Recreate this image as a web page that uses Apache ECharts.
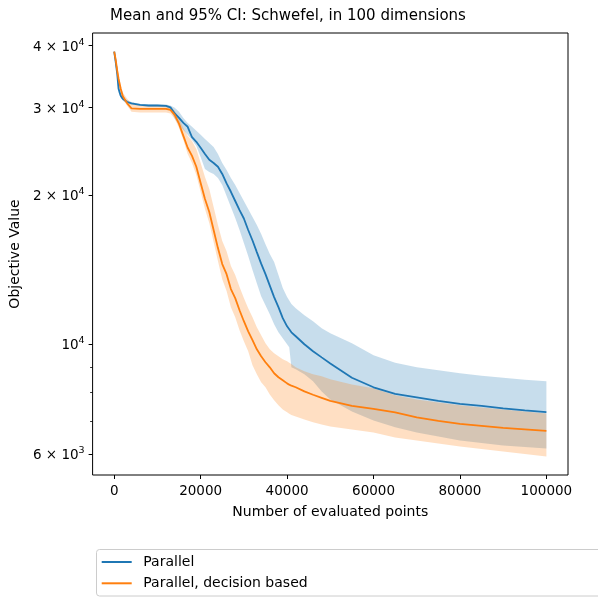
<!DOCTYPE html>
<html>
<head>
<meta charset="utf-8">
<script src="https://cdn.jsdelivr.net/npm/echarts@6/dist/echarts.min.js"></script>
<style>
  html, body { margin: 0; padding: 0; background: #fff; }
  #chart { width: 598px; height: 597px; }
</style>
</head>
<body>
<div id="chart"></div>
<script>
// number of evaluated points (shared x samples)
const evals = [0, 300, 700, 1000, 1500, 2000, 3000, 4000, 6000, 8000, 10000, 12000, 13000,
  14000, 15000, 16000, 17000, 18000, 19000, 20000, 21000, 22000, 23000, 24000, 25000, 26000,
  27000, 28000, 29000, 30000, 31000, 32000, 33000, 34000, 35000, 36000, 37000, 38000, 39000,
  40000, 40500, 41000, 42000, 44000, 46000, 48000, 50000, 55000, 60000, 65000, 70000, 75000,
  80000, 85000, 90000, 95000, 100000];

// Parallel: mean and 95% CI
const parMean = [38900, 37300, 35100, 32750, 31700, 31250, 30800, 30600, 30400, 30300, 30300, 30250, 30050,
  29200, 28600, 27950, 27450, 26150, 25600, 24900, 24200, 23550, 23200, 22800, 22050, 21100,
  20300, 19450, 18650, 17930, 17000, 16190, 15340, 14540, 13850, 13130, 12450, 11880, 11290,
  10870, 10720, 10570, 10380, 10000, 9680, 9410, 9150, 8560, 8190, 7940, 7815, 7690,
  7580, 7510, 7425, 7360, 7300];
const parUpper = [38900, 38200, 36300, 33360, 31990, 31550, 31040, 30800, 30530, 30460, 30460, 30460, 30300,
  29980, 29420, 28600, 27950, 27450, 26940, 26440, 25950, 25470, 25000, 24200, 23200, 22460,
  21640, 20950, 20190, 19450, 18730, 18060, 17400, 16680, 15920, 15200, 14650, 13790, 12980,
  12450, 12250, 12050, 11820, 11440, 11130, 10770, 10520, 10050, 9500, 9180, 8985, 8860,
  8740, 8640, 8560, 8480, 8420];
const parLower = [38900, 36950, 34310, 32140, 31400, 30970, 30600, 30400, 30250, 30110, 30110, 30050, 29690,
  28480, 27700, 27060, 26440, 25830, 25120, 23870, 22570, 22260, 22050, 21640, 20950, 19910,
  18910, 17970, 17000, 16000, 15060, 14110, 13280, 12500, 11990, 11500, 10975, 10570, 10280,
  10000, 9860, 8985, 8900, 8700, 8420, 8035, 7740, 7320, 7020, 6800, 6640, 6520,
  6400, 6320, 6250, 6210, 6165];

// Parallel, decision based: mean and 95% CI
const decMean = [38900, 37650, 35610, 34310, 32750, 31620, 30600, 29910, 29830, 29830, 29830, 29830, 29690,
  29010, 27820, 26320, 24900, 23980, 22800, 21150, 19630, 18480, 17000, 15630, 14510, 13850,
  12920, 12390, 11710, 11130, 10620, 10190, 9770, 9460, 9200, 8985, 8740, 8580, 8460,
  8340, 8290, 8250, 8190, 8035, 7910, 7800, 7690, 7510, 7410, 7290, 7120, 7010,
  6910, 6845, 6780, 6735, 6690];
const decUpper = [38900, 38000, 36270, 34940, 33360, 32140, 31250, 30530, 30300, 30250, 30250, 30250, 30110,
  29560, 28600, 27310, 26320, 25710, 24770, 23200, 21740, 20560, 18910, 17400, 16150, 15410,
  14380, 13790, 13040, 12390, 11820, 11340, 10820, 10430, 10050, 9770, 9590, 9460, 9330,
  9240, 9180, 9120, 8985, 8820, 8700, 8620, 8500, 8300, 8150, 7890, 7740, 7635,
  7530, 7460, 7390, 7320, 7255];
const decLower = [38900, 37130, 34620, 33360, 31840, 31110, 30250, 29420, 29350, 29350, 29350, 29350, 29200,
  28480, 27310, 25830, 24200, 23200, 21940, 20300, 18730, 17560, 16070, 14720, 13530, 12800,
  11880, 11340, 10670, 10140, 9680, 9070, 8700, 8380, 8190, 7920, 7710, 7530, 7390,
  7290, 7240, 7200, 7155, 7050, 6960, 6890, 6830, 6735, 6640, 6490, 6400, 6310,
  6220, 6150, 6080, 6010, 5940];

const xTicks = [0, 20000, 40000, 60000, 80000, 100000];
const yTicks = [6000, 10000, 20000, 30000, 40000];
const yTickLabels = ['{b|6 × 10}{s|3}', '{b|10}{s|4}', '{b|2 × 10}{s|4}', '{b|3 × 10}{s|4}', '{b|4 × 10}{s|4}'];
const yMinorTicks = [7000, 8000, 9000];

const names = ['Parallel', 'Parallel, decision based'];
const blue = '#1f77b4';
const orange = '#ff7f0e';

const pts = (ys) => evals.map((x, i) => [x, ys[i]]);

// CI band as one filled polygon: upper edge forward, lower edge back
function band(id, lo, hi, fill) {
  return {
    name: id, type: 'custom', silent: true, z: 1, clip: true,
    data: evals.map((x, i) => [x, lo[i], hi[i]]),
    encode: { x: 0, y: [1, 2] },
    renderItem: (params, api) => {
      if (params.dataIndex !== 0) return null;
      const top = evals.map((x, i) => api.coord([x, hi[i]]));
      const bottom = evals.map((x, i) => api.coord([x, lo[i]])).reverse();
      return {
        type: 'polygon',
        shape: { points: top.concat(bottom) },
        style: { fill: fill, stroke: null }
      };
    }
  };
}

const chart = echarts.init(document.getElementById('chart'));
const black = '#000';

chart.setOption({
  animation: false,
  textStyle: { fontFamily: 'DejaVu Sans', color: black },
  grid: { left: 89, right: 30, top: 33, bottom: 122, show: true, borderColor: black, borderWidth: 1, backgroundColor: 'transparent' },
  graphic: [{
    type: 'text', silent: true, x: 288, y: 16.5,
    style: {
      text: 'Mean and 95% CI: Schwefel, in 100 dimensions',
      fontSize: 15, fontFamily: 'DejaVu Sans', fill: black,
      textAlign: 'center', textVerticalAlign: 'middle'
    }
  }, {
    type: 'rect', z: 0, silent: true,
    shape: { x: 96.5, y: 549.5, width: 620, height: 46.5, r: 3 },
    style: { fill: 'rgba(255,255,255,0.8)', stroke: '#cccccc', lineWidth: 1 }
  }],
  legend: {
    data: names, orient: 'vertical', left: 101.7, top: 553.5, padding: 0,
    itemWidth: 30, itemHeight: 2, itemGap: 4.3, icon: 'rect',
    textStyle: { fontSize: 14, color: black, lineHeight: 17, padding: [0, 0, 0, 6.6], fontFamily: 'DejaVu Sans' },
    selectedMode: false, z: 5
  },
  xAxis: {
    type: 'value', min: -5000, max: 105000,
    name: 'Number of evaluated points', nameLocation: 'middle', nameGap: 30,
    nameTextStyle: { fontSize: 14, color: black },
    axisLine: { show: false, onZero: false },
    axisTick: { show: true, length: 4, customValues: xTicks, lineStyle: { color: black, width: 1 } },
    axisLabel: { customValues: xTicks, fontSize: 13.5, color: black, margin: 9, formatter: (v) => String(v) },
    splitLine: { show: false }
  },
  yAxis: [{
    type: 'log', logBase: 10, min: 5450, max: 42430,
    name: 'Objective Value', nameLocation: 'middle', nameGap: 65,
    nameTextStyle: { fontSize: 14, color: black },
    axisLine: { show: false, onZero: false },
    axisTick: { show: true, length: 4, customValues: yTicks, lineStyle: { color: black, width: 1 } },
    axisLabel: {
      customValues: yTicks, margin: 8,
      formatter: (v) => yTickLabels[yTicks.indexOf(Math.round(v))] || '',
      rich: {
        b: { fontSize: 13.5, color: black, padding: [3, 0, 0, 0], fontFamily: 'DejaVu Sans' },
        s: { fontSize: 9.5, color: black, verticalAlign: 'top', fontFamily: 'DejaVu Sans' }
      }
    },
    splitLine: { show: false }
  }, {
    type: 'log', logBase: 10, min: 5450, max: 42430, position: 'left',
    axisLine: { show: false, onZero: false },
    axisTick: { show: true, length: 2.5, customValues: yMinorTicks, lineStyle: { color: black, width: 0.8 } },
    axisLabel: { show: false },
    splitLine: { show: false }
  }],
  series: [
    band('par-ci', parLower, parUpper, 'rgba(31,119,180,0.25)'),
    band('dec-ci', decLower, decUpper, 'rgba(255,127,14,0.25)'),
    {
      name: names[0], type: 'line', data: pts(parMean), color: blue,
      symbol: 'none', lineStyle: { color: blue, width: 1.8 }, z: 3, silent: true
    },
    {
      name: names[1], type: 'line', data: pts(decMean), color: orange,
      symbol: 'none', lineStyle: { color: orange, width: 1.8 }, z: 3, silent: true
    }
  ]
});
</script>
</body>
</html>
